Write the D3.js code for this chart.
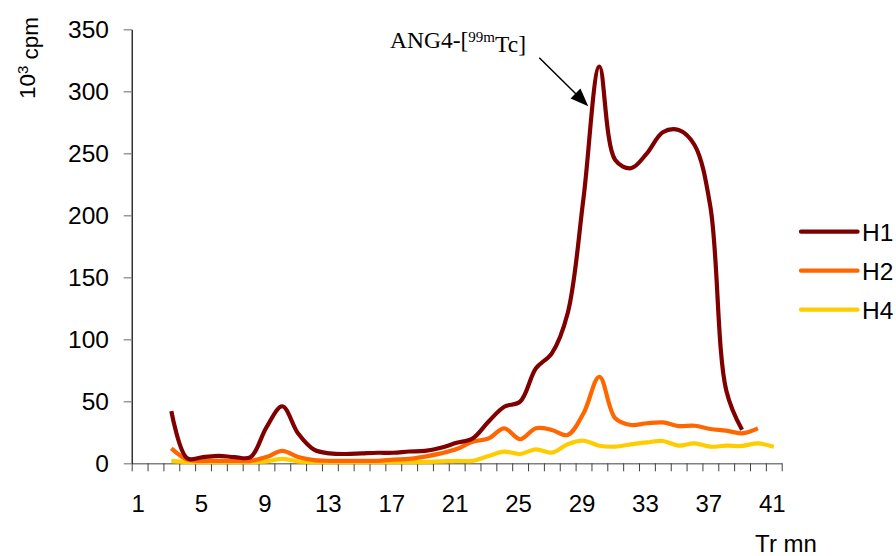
<!DOCTYPE html>
<html>
<head>
<meta charset="utf-8">
<script src="https://cdn.jsdelivr.net/npm/d3@7"></script>
<style>
  html, body { margin: 0; padding: 0; background: #fff; }
  svg { display: block; }
  text { font-family: "Liberation Sans", Arial, sans-serif; fill: #000; }
</style>
</head>
<body>
<svg id="chart" width="896" height="556"></svg>
<script>
// ---- Data ----
const categories = d3.range(1, 42);               // Tr (mn) 1..41
const xTickLabels = [1, 5, 9, 13, 17, 21, 25, 29, 33, 37, 41];
const yTicks = [0, 50, 100, 150, 200, 250, 300, 350];
const seriesNames = ["H1", "H2", "H4"];
const seriesColors = ["#800000", "#FF6600", "#FFCC00"];

// values start at category 3
const h1Start = 3;
const h1Values = [42, 4, 5, 6, 5, 5, 29, 46, 24, 11, 8, 7.5, 8, 8.5, 8.5, 9.5, 10, 12.5, 16.5, 20,
                  33.5, 45.6, 49.7, 76.6, 88.7, 121, 214, 320, 244.6, 238, 250, 267, 268.8, 256.7, 207, 59, 27];
const h2Start = 3;
const h2Values = [12, 3, 2, 2, 2, 2, 5, 10, 5, 2.5, 2, 2, 2, 2, 3, 3.5, 5.4, 8, 11.5, 17.4,
                  20, 28.2, 19.4, 28.2, 26.9, 22.8, 40.3, 69.8, 36.3, 30.9, 32.3, 33, 30, 30.3, 27.7, 26.3, 24.2, 28.2];
const h4Start = 3;
const h4Values = [2, 1, 1, 1, 1, 1, 1.5, 3.5, 1.5, 1, 1, 1, 1, 1, 1, 1, 1, 1.5, 2, 2,
                  5.9, 9.4, 7.5, 11.3, 8.6, 15.3, 18.2, 14.2, 13.4, 15.3, 16.9, 18, 14.2, 16.1, 13.4, 14.2, 14, 16.1, 13.4];

const annotationCategory = 29.3;
const annotationValue = 288;

// ---- Layout ----
const svg = d3.select("#chart");
const plot = { left: 131.7, right: 781.7, top: 29.3, bottom: 463.3 };

const x = d3.scaleLinear().domain([0.5, categories.length + 0.5]).range([plot.left, plot.right]);
const y = d3.scaleLinear().domain([0, 350]).range([plot.bottom, plot.top]);

// ---- Axes ----
const xAxis = d3.axisBottom(x)
  .tickValues(d3.range(0.5, categories.length + 1, 1))
  .tickSize(8)
  .tickSizeOuter(0)
  .tickFormat("");
const gx = svg.append("g").attr("transform", `translate(0,${plot.bottom})`).call(xAxis);
gx.select(".domain").attr("stroke", "#808080").attr("stroke-width", 1.6);
gx.selectAll(".tick line").attr("stroke", "#404040").attr("stroke-width", 1);

svg.append("g").selectAll("text").data(xTickLabels).join("text")
  .attr("x", d => x(d) - 1.5)
  .attr("y", 511.5)
  .attr("text-anchor", "middle")
  .style("font-size", "24px")
  .text(d => d);

const yAxis = d3.axisLeft(y).tickValues(yTicks).tickSize(8).tickSizeOuter(0).tickFormat("");
const gy = svg.append("g").attr("transform", `translate(${plot.left},0)`).call(yAxis);
gy.select(".domain").attr("stroke", "#000").attr("stroke-width", 1.2);
gy.selectAll(".tick line").attr("stroke", "#808080").attr("stroke-width", 1.2);

svg.append("g").selectAll("text").data(yTicks).join("text")
  .attr("x", 109)
  .attr("y", d => y(d))
  .attr("dy", "0.36em")
  .attr("text-anchor", "end")
  .style("font-size", "24.5px")
  .text(d => d);

// Y axis title: 10^3 cpm
const yTitle = svg.append("text")
  .attr("transform", "translate(35,58) rotate(-90)")
  .attr("text-anchor", "middle")
  .style("font-size", "22.5px");
yTitle.append("tspan").text("10");
yTitle.append("tspan").attr("dy", "-0.45em").style("font-size", "15px").text("3");
yTitle.append("tspan").attr("dy", "0.45em").text(" cpm");

// X axis title
svg.append("text")
  .attr("x", 786).attr("y", 552)
  .attr("text-anchor", "middle")
  .style("font-size", "24px")
  .text("Tr mn");

// ---- Lines ----
const series = [
  { name: seriesNames[0], color: seriesColors[0], start: h1Start, values: h1Values },
  { name: seriesNames[1], color: seriesColors[1], start: h2Start, values: h2Values },
  { name: seriesNames[2], color: seriesColors[2], start: h4Start, values: h4Values }
];

const line = d3.line()
  .x(d => x(d[0]))
  .y(d => y(d[1]))
  .curve(d3.curveCatmullRom.alpha(0.5));

svg.append("g").selectAll("path").data(series.slice().reverse()).join("path")
  .attr("d", s => line(s.values.map((v, i) => [s.start + i, v])))
  .attr("fill", "none")
  .attr("stroke", s => s.color)
  .attr("stroke-width", 4.2)
  .attr("stroke-linejoin", "round")
  .attr("stroke-linecap", "butt");

// ---- Legend ----
const legend = svg.append("g");
series.forEach((s, i) => {
  const ly = 231.7 + i * 39;
  legend.append("line")
    .attr("x1", 801).attr("x2", 857.5)
    .attr("y1", ly).attr("y2", ly)
    .attr("stroke", s.color).attr("stroke-width", 4.3)
    .attr("stroke-linecap", "round");
  legend.append("text")
    .attr("x", 862).attr("y", ly).attr("dy", "0.36em")
    .style("font-size", "24.5px")
    .text(s.name);
});

// ---- Annotation ----
const tipX = x(annotationCategory), tipY = y(annotationValue);
svg.append("line")
  .attr("x1", tipX - 49).attr("y1", tipY - 48.5)
  .attr("x2", tipX - 8).attr("y2", tipY - 8)
  .attr("stroke", "#000").attr("stroke-width", 1.5);
const ang = Math.atan2(48.5, 49);
const headLen = 18, headHalf = 7;
const bx = tipX - headLen * Math.cos(ang), by = tipY - headLen * Math.sin(ang);
svg.append("path")
  .attr("d", `M${tipX},${tipY} L${bx + headHalf * Math.sin(ang)},${by - headHalf * Math.cos(ang)} L${bx - headHalf * Math.sin(ang)},${by + headHalf * Math.cos(ang)} Z`)
  .attr("fill", "#000");

const ann = svg.append("text")
  .attr("x", 390).attr("y", 48)
  .style("font-family", "'Liberation Serif', 'Times New Roman', serif")
  .style("font-size", "23.5px");
ann.append("tspan").text("ANG4-[");
ann.append("tspan").attr("dy", "-0.42em").style("font-size", "15px").text("99m");
ann.append("tspan").attr("dy", "0.42em").text("Tc]");
</script>
</body>
</html>
